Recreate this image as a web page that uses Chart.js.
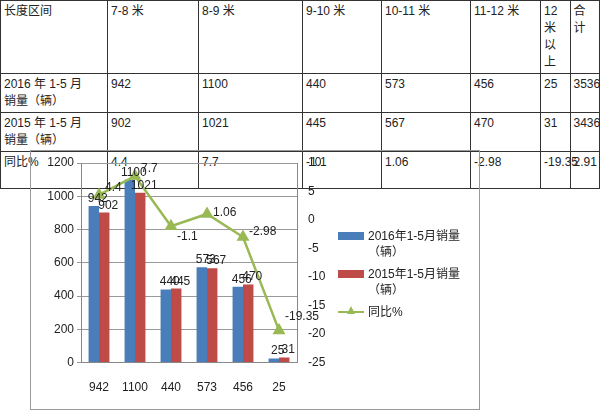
<!DOCTYPE html>
<html><head><meta charset="utf-8">
<script src="https://cdn.jsdelivr.net/npm/chart.js@4"></script>
<style>
body{margin:0;width:600px;height:413px;background:#fff;font-family:"Liberation Sans","Noto Sans CJK SC",sans-serif;position:relative;overflow:hidden}
table{position:absolute;left:0;top:0;width:600px;border-collapse:collapse;table-layout:fixed;font-size:12px;color:#222}
td{border:1px solid #333;padding:2px 3px;vertical-align:top;line-height:17px}
#box{position:absolute;left:30px;top:150px;width:448px;height:258px;border:1px solid #999}
#lg{position:absolute;left:338px;top:228px;font-size:12px;color:#222;line-height:16px}
.it{display:flex;align-items:flex-start;margin-bottom:6px}
.sw{width:26px;height:8px;margin:4px 4px 0 0}
</style></head><body>
<table>
<colgroup><col style="width:107px"><col style="width:91px"><col style="width:104px"><col style="width:79px"><col style="width:89px"><col style="width:70px"><col></colgroup>
<tr style="height:33px"><td>长度区间</td><td>7-8 米</td><td>8-9 米</td><td>9-10 米</td><td>10-11 米</td><td>11-12 米</td><td>12 米以上</td><td>合计</td></tr>
<tr style="height:37px"><td>2016 年 1-5 月<br>销量（辆）</td><td>942</td><td>1100</td><td>440</td><td>573</td><td>456</td><td>25</td><td>3536</td></tr>
<tr style="height:38px"><td>2015 年 1-5 月<br>销量（辆）</td><td>902</td><td>1021</td><td>445</td><td>567</td><td>470</td><td>31</td><td>3436</td></tr>
<tr style="height:37px"><td>同比%</td><td>4.4</td><td>7.7</td><td>-1.1</td><td>1.06</td><td>-2.98</td><td>-19.35</td><td>2.91</td></tr>
</table>
<div id="box"><canvas id="c" width="448" height="258"></canvas></div>
<div id="lg">
<div class="it"><div class="sw" style="background:#4a7ebb"></div><div>2016年1-5月销量<br>（辆）</div></div>
<div class="it"><div class="sw" style="background:#be4b48"></div><div>2015年1-5月销量<br>（辆）</div></div>
<div class="it"><div style="width:26px;margin-right:4px;position:relative;height:16px"><div style="position:absolute;top:7px;width:26px;height:2px;background:#98b954"></div><div style="position:absolute;left:9px;top:2px;width:0;height:0;border-left:4px solid transparent;border-right:4px solid transparent;border-bottom:8px solid #98b954"></div></div><div>同比%</div></div>
</div>
<script>
const labels = ['942','1100','440','573','456','25'];
const sales2016 = [942,1100,440,573,456,25];
const sales2015 = [902,1021,445,567,470,31];
const yoy = [4.4,7.7,-1.1,1.06,-2.98,-19.35];

// 在每个点上方写数值
const valueLabels = {
  id:'valueLabels',
  afterDatasetsDraw(chart){
    const ctx = chart.ctx;
    ctx.save();
    ctx.font = '12px "Liberation Sans", sans-serif';
    ctx.fillStyle = '#222';
    chart.data.datasets.forEach((ds,i)=>{
      chart.getDatasetMeta(i).data.forEach((el,j)=>{
        if(ds.type==='line'){
          ctx.textAlign='left';
          ctx.fillText(ds.data[j], el.x+6, el.y+ (j==5?-10:j==3?2:j==4?-2:j==2?14:-4));
        }else{
          ctx.textAlign='center';
          const lift = (i==0 && (j==3||j==4)) ? 18 : 4;
          ctx.fillText(ds.data[j], el.x+(i==0?-4:4), el.y-lift);
        }
      });
    });
    ctx.restore();
  }
};

new Chart(document.getElementById('c'), {
  data:{
    labels:labels,
    datasets:[
      {type:'line',label:'同比%',data:yoy,yAxisID:'y2',borderColor:'#98b954',backgroundColor:'#98b954',borderWidth:2.5,pointStyle:'triangle',pointRadius:5,order:0},
      {type:'bar',label:'2016年1-5月销量（辆）',data:sales2016,yAxisID:'y',backgroundColor:'#4a7ebb',categoryPercentage:0.58,barPercentage:1,order:1},
      {type:'bar',label:'2015年1-5月销量（辆）',data:sales2015,yAxisID:'y',backgroundColor:'#be4b48',categoryPercentage:0.58,barPercentage:1,order:1}
    ]
  },
  options:{
    responsive:false,animation:false,
    layout:{padding:{top:12,right:142,bottom:4,left:0}},
    plugins:{legend:{display:false},tooltip:{enabled:false}},
    scales:{
      x:{grid:{display:false},border:{color:'#888'},ticks:{color:'#222',font:{size:12},padding:10}},
      y:{position:'left',min:0,max:1200,ticks:{stepSize:200,color:'#222',font:{size:12},callback:v=>String(v)},grid:{color:'#999',tickLength:4},border:{color:'#888'},afterFit(s){s.width=50;}},
      y2:{position:'right',min:-25,max:10,ticks:{stepSize:5,color:'#222',font:{size:12}},grid:{display:false},border:{color:'#888'},afterFit(s){s.width=40;}}
    }
  },
  plugins:[valueLabels]
});
</script>
</body></html>
